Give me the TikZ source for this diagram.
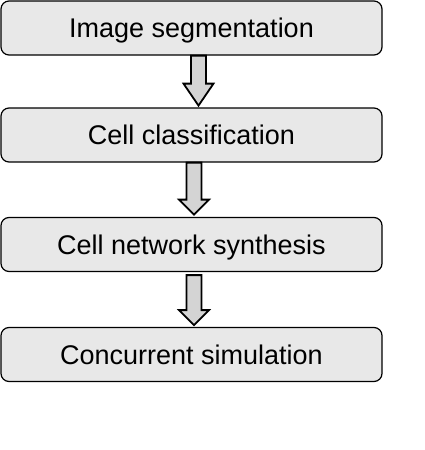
\documentclass[tikz,border=0pt]{standalone}
\usepackage{fontspec}
\setmainfont{Liberation Sans}
\usetikzlibrary{positioning,calc}

\definecolor{boxgray}{HTML}{E8E8E8}
\definecolor{arrowgray}{HTML}{D4D4D4}

% block arrow hanging below a box: #1 box, #2 x offset, #3 gap, #4 length, #5 head length
\newcommand{\downblock}[5]{%
  \draw[blockarrow,shift={($(#1.south)+(#2pt,-#3pt)$)}]
    (-7.5pt,0) -- (7.5pt,0) -- (7.5pt,-#4pt+#5pt) -- (15pt,-#4pt+#5pt)
    -- (0,-#4pt) -- (-15pt,-#4pt+#5pt) -- (-7.5pt,-#4pt+#5pt) -- cycle;}

\begin{document}
\begin{tikzpicture}[
    stepbox/.style={draw,line width=1.2pt,fill=boxgray,rounded corners=8pt,
      minimum width=381pt,minimum height=54pt,inner sep=0pt,
      text height=19.4pt,text depth=0pt,
      font=\fontsize{27}{32}\selectfont},
    blockarrow/.style={draw,line width=1.8pt,fill=arrowgray,line join=miter}]
    \useasboundingbox (0,0) rectangle (425pt,-450pt);

    \node[stepbox] (seg)   at (191.5pt,-28pt)  {Image segmentation};
    \node[stepbox] (class) at (191.5pt,-135pt) {Cell classification};
    \node[stepbox] (net)   at (191.5pt,-244.5pt) {Cell network synthesis};
    \node[stepbox] (sim)   at (191.5pt,-354.5pt) {Concurrent simulation};

    \downblock{seg}{7}{0}{50}{22}
    \downblock{class}{2.5}{0}{52}{15}
    \downblock{net}{2.5}{3}{50}{15}
\end{tikzpicture}
\end{document}
